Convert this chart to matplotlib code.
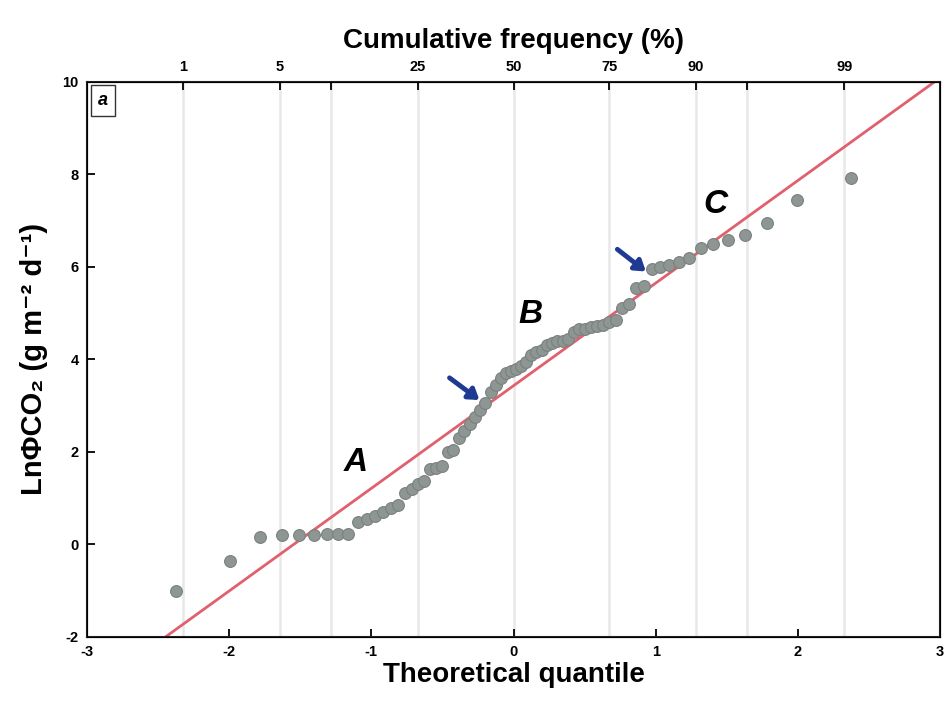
import matplotlib
matplotlib.use("Agg")
import matplotlib.pyplot as plt
import numpy as np
from statistics import NormalDist

# ---- data ----
ln_flux = [-1.02, -0.36, 0.16, 0.20, 0.21, 0.21, 0.22, 0.22, 0.23, 0.48,
           0.55, 0.62, 0.70, 0.78, 0.86, 1.10, 1.20, 1.30, 1.38, 1.63,
           1.66, 1.70, 2.00, 2.05, 2.30, 2.45, 2.60, 2.75, 2.90, 3.05,
           3.30, 3.45, 3.60, 3.70, 3.75, 3.80, 3.85, 3.95, 4.10, 4.15,
           4.20, 4.30, 4.35, 4.40, 4.40, 4.45, 4.60, 4.65, 4.65, 4.70,
           4.72, 4.75, 4.80, 4.85, 5.10, 5.20, 5.55, 5.58, 5.95, 6.00,
           6.05, 6.10, 6.20, 6.40, 6.50, 6.58, 6.68, 6.95, 7.45, 7.92]
fit_intercept = 3.43
fit_slope = 2.22
cum_freq_ticks = [1, 5, 10, 25, 50, 75, 90, 95, 99]
cum_freq_labels = ["1", "5", "", "25", "50", "75", "90", "", "99"]
x_ticks = [-3, -2, -1, 0, 1, 2, 3]
y_ticks = [-2, 0, 2, 4, 6, 8, 10]
segment_labels = ["A", "B", "C"]
segment_pos = [(-1.11, 1.78), (0.12, 4.96), (1.42, 7.34)]
arrows = [((-0.45, 3.60), (-0.24, 3.12)), ((0.73, 6.38), (0.93, 5.90))]

# ---- theoretical quantiles (Blom plotting positions) ----
nd = NormalDist()
n = len(ln_flux)
theo_q = [nd.inv_cdf((i + 1 - 0.375) / (n + 0.25)) for i in range(n)]
freq_q = [nd.inv_cdf(p / 100.0) for p in cum_freq_ticks]

FAM = ['Liberation Sans Narrow', 'Liberation Sans', 'DejaVu Sans']

fig = plt.figure(figsize=(9.44, 7.06), dpi=100)
ax = fig.add_axes([0.092, 0.098, 0.904, 0.786])

for q in freq_q:
    ax.axvline(q, color='#e8e8e8', lw=1.8, zorder=0)

ax.axline((0, fit_intercept), slope=fit_slope, color='#e0606e', lw=2.0, zorder=2)
ax.scatter(theo_q, ln_flux, s=72, color='#8e9694', edgecolors='#7a807e',
           linewidths=0.8, zorder=3)

for (tx, ty), (hx, hy) in arrows:
    ax.annotate('', xy=(hx, hy), xytext=(tx, ty),
                arrowprops=dict(arrowstyle='-|>,head_length=0.6,head_width=0.4',
                                color='#1f3a93', lw=3.5, shrinkA=0, shrinkB=0),
                zorder=4)

for lab, (lx, ly) in zip(segment_labels, segment_pos):
    ax.text(lx, ly, lab, fontsize=24, fontstyle='italic', fontweight='bold',
            family=['Liberation Sans', 'DejaVu Sans'], ha='center', va='center', zorder=5)

ax.text(0.019, 0.982, 'a', transform=ax.transAxes, ha='center', va='top',
        fontsize=13, fontstyle='italic', fontweight='bold',
        family=['Liberation Sans', 'DejaVu Sans'],
        bbox=dict(boxstyle='square,pad=0.4', fc='white', ec='#333333', lw=1.0))

ax.set_xlim(-3, 3)
ax.set_ylim(-2, 10)
ax.set_xticks(x_ticks)
ax.set_yticks(y_ticks)
ax.set_xticklabels([str(v) for v in x_ticks], family=FAM, fontsize=10.5, fontweight='bold')
ax.set_yticklabels([str(v) for v in y_ticks], family=FAM, fontsize=10.5, fontweight='bold')
ax.tick_params(direction='in', length=6, width=1.3, pad=6)

for s in ax.spines.values():
    s.set_linewidth(1.5)
    s.set_color('#222222')

ax.set_xlabel('Theoretical quantile', family=FAM, fontsize=20, fontweight='bold', labelpad=2)
ax.set_ylabel('LnΦCO₂ (g m⁻² d⁻¹)', family=FAM, fontsize=21, fontweight='bold', labelpad=10)

top = ax.twiny()
top.set_xlim(ax.get_xlim())
top.set_xticks(freq_q)
top.set_xticklabels(cum_freq_labels, family=FAM, fontsize=10.5, fontweight='bold')
top.tick_params(direction='in', length=6, width=1.3, pad=6)
top.set_xlabel('Cumulative frequency (%)', family=FAM, fontsize=20, fontweight='bold', labelpad=8)

fig.savefig('out.png', dpi=100)
